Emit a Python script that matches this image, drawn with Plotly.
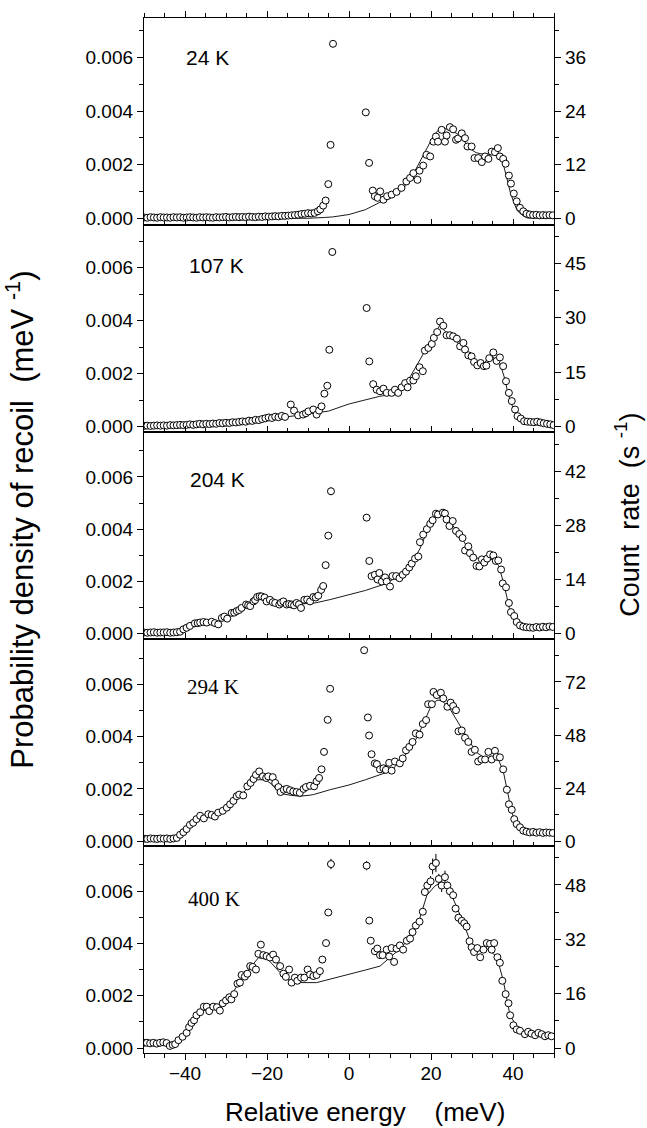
import plotly.graph_objects as go

# ---------------------------------------------------------------
# Recoil spectra at five temperatures: measured points + model curve
# energy in meV, probability density in meV^-1
# ---------------------------------------------------------------
temps = ["24 K", "107 K", "204 K", "294 K", "400 K"]

E24 = [-50, -49.2, -48.4, -47.6, -46.8, -46, -45.2, -44.4, -43.6, -42.8,
       -42, -41.2, -40.4, -39.6, -38.8, -38, -37.2, -36.4, -35.6, -34.8,
       -34, -33.2, -32.4, -31.6, -30.8, -30, -29.2, -28.4, -27.6, -26.8,
       -26, -25.2, -24.4, -23.6, -22.8, -22, -21.2, -20.4, -19.6, -18.8,
       -18, -17.2, -16.4, -15.6, -14.8, -14, -13.2, -12.4, -11.6, -10.8,
       -10, -9.2, -8.4, -7.6, -7.0, -6.3, -5.7, -5.05, -4.5, -3.9,
       4.1, 4.9, 5.8, 6.3, 7.0, 7.6, 8.4, 9.3, 10.4, 11.6,
       12.8, 14.0, 14.9, 15.7, 16.7, 17.2, 18.1, 18.9, 19.8, 20.6,
       21.2, 21.7, 22.6, 23.4, 23.8, 24.6, 25.4, 26.1, 26.6, 27.5,
       28.3, 28.9, 29.9, 30.6, 31.5, 32.4, 33.2, 34.0, 34.8, 35.6,
       36.3, 36.8, 37.6, 38.2, 39.0, 39.5, 40.2, 40.9, 41.7, 42.5,
       43.3, 44.1, 44.9, 45.7, 46.5, 47.3, 48.1, 48.9, 49.7]
P24 = [0.00004, 0.00003, 0.00005, 0.00004, 0.00003, 0.00005, 0.00004, 0.00004, 0.00003, 0.00005,
       0.00004, 0.00005, 0.00003, 0.00004, 0.00005, 0.00004, 0.00003, 0.00005, 0.00004, 0.00005,
       0.00004, 0.00003, 0.00005, 0.00004, 0.00005, 0.00006, 0.00004, 0.00005, 0.00006, 0.00005,
       0.00006, 0.00005, 0.00007, 0.00006, 0.00005, 0.00007, 0.00006, 0.00008, 0.00007, 0.00008,
       0.00009, 0.00008, 0.0001, 0.0001, 0.00011, 0.00012, 0.00013, 0.00014, 0.00017, 0.00018,
       0.0002, 0.00019, 0.00021, 0.00027, 0.00034, 0.00048, 0.00067, 0.00128, 0.00274, 0.0065,
       0.00395, 0.00207, 0.00104, 0.00083, 0.00077, 0.00101, 0.0007, 0.00083, 0.00089, 0.00099,
       0.00114, 0.00138, 0.00151, 0.00169, 0.00144, 0.00178, 0.00197, 0.00237, 0.00231, 0.00286,
       0.00305, 0.00286, 0.0033, 0.00286, 0.00309, 0.0034, 0.00332, 0.00293, 0.00298, 0.00317,
       0.00299, 0.00268, 0.00268, 0.00225, 0.00225, 0.0021, 0.00231, 0.00222, 0.00249, 0.00247,
       0.00262, 0.00231, 0.00222, 0.00204, 0.0016, 0.0013, 0.00093, 0.00064, 0.0004, 0.00027,
       0.00018, 0.00015, 0.00013, 0.00014, 0.00012, 0.00013, 0.00012, 0.00013, 0.00012]
F24_E = [-50, -12, -10, -6, -4, 0, 4, 7.5, 10, 12, 14, 15.5, 17, 18.5, 20, 21, 22.2, 23.5,
         25, 26.5, 28, 29.5, 31, 32.5, 34, 35.2, 36.5, 37.5, 38.5, 39.3, 40.1, 41, 41.7,
         42.5, 43.5, 50]
F24_P = [0, 0, 0.00001, 0.00004, 0.00006, 0.00015, 0.00033, 0.0006, 0.00075, 0.00095, 0.00125,
         0.0016, 0.00205, 0.0025, 0.0029, 0.00315, 0.00336, 0.00335, 0.00325, 0.00315, 0.0029,
         0.0026, 0.00245, 0.0024, 0.0024, 0.00245, 0.0024, 0.0021, 0.0015, 0.001, 0.00064,
         0.0003, 0.0002, 0.0001, 0.00002, 0]

E107 = [-50, -49.2, -48.4, -47.6, -46.8, -46, -45.2, -44.4, -43.6, -42.8,
        -42, -41.2, -40.4, -39.6, -38.8, -38, -37.2, -36.4, -35.6, -34.8,
        -34, -33.2, -32.4, -31.6, -30.8, -30, -29.2, -28.4, -27.6, -26.8,
        -26, -25.2, -24.4, -23.6, -22.8, -22, -21.2, -20.4, -19.6, -18.8,
        -18, -17.2, -16.4, -15.6, -14.2, -13.4, -12.4, -11.2, -10.5, -9.9,
        -8.7, -7.9, -7.3, -6.7, -6.0, -5.3, -4.8, -4.07,
        4.3, 4.95, 5.9, 6.75, 7.56, 8.4, 9.2, 10.4, 11.2, 12.0,
        12.85, 13.7, 14.3, 14.9, 15.7, 16.3, 17.2, 18.0, 18.5, 19.35,
        20.2, 20.7, 21.5, 22.2, 23.0, 23.8, 24.6, 25.4, 26.3, 27.1,
        27.9, 28.3, 29.1, 29.9, 30.5, 31.3, 32.1, 32.9, 33.5, 34.2,
        35.2, 36.0, 36.8, 37.6, 38.3, 39.0, 39.7, 40.5, 41.1, 41.9,
        42.7, 43.5, 44.3, 45.1, 45.9, 46.7, 47.5, 48.3, 49.1, 49.9]
P107 = [0.00002, 0.00003, 0.00002, 0.00003, 0.00004, 0.00003, 0.00004, 0.00003, 0.00005, 0.00004,
        0.00005, 0.00006, 0.00005, 0.00006, 0.00008, 0.00006, 0.00008, 0.0001, 0.00008, 0.0001,
        0.00009, 0.00011, 0.0001, 0.00013, 0.00012, 0.00014, 0.00013, 0.00016, 0.00015, 0.00017,
        0.00019, 0.00018, 0.00022, 0.00021, 0.00025, 0.00024, 0.00028, 0.00031, 0.00034, 0.00032,
        0.00037, 0.00035, 0.0004, 0.00036, 0.00083, 0.0006, 0.00042, 0.00045, 0.0005, 0.00057,
        0.00064, 0.00045, 0.0006, 0.00076, 0.00124, 0.00154, 0.0029, 0.0066,
        0.00448, 0.00246, 0.0016, 0.00139, 0.00133, 0.00143, 0.00127, 0.00127, 0.00139, 0.00127,
        0.00148, 0.00164, 0.00148, 0.00173, 0.00174, 0.0019, 0.00224, 0.00209, 0.00287, 0.00297,
        0.00312, 0.00335, 0.00357, 0.00397, 0.00381, 0.00345, 0.00345, 0.00341, 0.00332, 0.00303,
        0.00316, 0.00291, 0.00269, 0.00265, 0.00244, 0.00231, 0.0024, 0.00228, 0.0023, 0.00258,
        0.0028, 0.00248, 0.00261, 0.00228, 0.00171, 0.00127, 0.00096, 0.00064, 0.00039, 0.0003,
        0.0002, 0.00018, 0.00017, 0.00016, 0.00018, 0.00015, 0.00012, 0.0001, 0.00008, 0.00005]
F107_E = [-50, -40, -30, -25, -20, -15, -10, -5, 0, 5, 7.5, 10, 12.5, 15, 16.5, 18, 19.5, 21,
          22.2, 23.4, 25, 27, 29, 31, 33, 34.5, 36, 37.2, 38, 38.7, 39.5, 40.3, 41.2, 42.5, 50]
F107_P = [0.00002, 0.00005, 0.00012, 0.00017, 0.00026, 0.00036, 0.00046, 0.00058, 0.00085,
          0.00105, 0.00114, 0.0012, 0.0015, 0.0019, 0.0023, 0.0027, 0.0031, 0.0035, 0.00385,
          0.0036, 0.0034, 0.0031, 0.0027, 0.0024, 0.0024, 0.0027, 0.0025, 0.0022, 0.0018,
          0.0013, 0.0009, 0.0006, 0.0003, 0.0001, 0.00002]

E204 = [-50, -49.2, -48.4, -47.6, -46.8, -46, -45.2, -44.4, -43.6, -42.8,
        -42, -41.2, -40.4, -39.6, -38.8, -37.6, -36.9, -36.3, -35.5, -34.7,
        -33.5, -32.7, -31.9, -31.0, -30.4, -29.7, -28.6, -28.0, -27.4, -26.8,
        -26.2, -25.1, -24.6, -24.1, -23.3, -22.9, -22.4, -21.8, -21.3, -20.6,
        -20.1, -19.3, -18.6, -18.0, -17.0, -16.6, -16.0, -15.2, -14.6, -14.0,
        -13.4, -12.8, -12.2, -11.7, -10.9, -10.2, -9.5, -8.7, -8.1, -7.5,
        -6.8, -6.3, -5.7, -5.05, -4.4,
        4.3, 4.95, 5.5, 6.3, 6.95, 7.4, 8.0, 8.8, 9.2, 10.0,
        10.6, 11.5, 12.3, 13.1, 13.9, 14.7, 15.3, 16.1, 16.9, 17.3,
        18.1, 19.0, 19.8, 20.4, 21.2, 21.7, 22.9, 23.4, 23.8, 24.5,
        25.3, 26.1, 26.9, 27.7, 28.3, 29.1, 29.5, 30.3, 31.1, 31.8,
        32.4, 33.0, 33.7, 34.4, 35.2, 35.8, 36.4, 37.1, 37.5, 38.3,
        39.0, 39.5, 40.3, 40.9, 41.7, 42.5, 43.3, 44.1, 44.9, 45.7,
        46.5, 47.3, 48.1, 48.9, 49.7]
P204 = [0.00004, 0.00003, 0.00004, 0.00005, 0.00003, 0.00004, 0.00004, 0.00005, 0.00003, 0.00004,
        0.00005, 0.00007, 0.00016, 0.00022, 0.00029, 0.00039, 0.0004, 0.00042, 0.00044, 0.00042,
        0.00045, 0.0004, 0.00035, 0.0006, 0.00065, 0.00057, 0.00079, 0.0008, 0.00086, 0.0009,
        0.00098, 0.00111, 0.00108, 0.00105, 0.00123, 0.00128, 0.0014, 0.00143, 0.00142, 0.00138,
        0.00123, 0.00129, 0.0012, 0.00117, 0.00111, 0.00118, 0.00123, 0.00111, 0.00113, 0.00111,
        0.00108, 0.00117, 0.00112, 0.00098, 0.00129, 0.0013, 0.00123, 0.0014, 0.00138, 0.00145,
        0.00167, 0.00182, 0.00262, 0.00375, 0.00545,
        0.00444, 0.00278, 0.0022, 0.00225, 0.00207, 0.00232, 0.00199, 0.00215, 0.00199, 0.0018,
        0.0022, 0.0022, 0.00212, 0.00225, 0.00237, 0.00253, 0.00268, 0.00287, 0.00295, 0.0035,
        0.00379, 0.004, 0.0042, 0.00434, 0.00459, 0.00456, 0.00463, 0.0046, 0.00437, 0.00412,
        0.00431, 0.00393, 0.00381, 0.00366, 0.00318, 0.00334, 0.00308, 0.00291, 0.00259, 0.00257,
        0.00284, 0.00272, 0.00287, 0.00303, 0.00299, 0.00278, 0.0028, 0.00245, 0.00192, 0.00177,
        0.00117, 0.00082, 0.00067, 0.00044, 0.00031, 0.00026, 0.00024, 0.00023, 0.00022, 0.00025,
        0.00023, 0.00026, 0.00024, 0.00027, 0.00025]
F204_E = [-50, -42, -40, -38, -35, -32, -30, -27, -25, -23, -21.5, -20, -18, -15, -12, -8.3,
          -4.6, 0, 4, 8.8, 11, 13, 15, 17.3, 19, 21, 22.9, 24.5, 26.5, 28.5, 31, 33.5, 35.2,
          36.5, 37.6, 38.5, 39.2, 40.1, 40.9, 42, 50]
F204_P = [0.00003, 0.00005, 0.0001, 0.00025, 0.0004, 0.00045, 0.0006, 0.00085, 0.001, 0.0012,
          0.00135, 0.00132, 0.0012, 0.0011, 0.00112, 0.00117, 0.0013, 0.00148, 0.00165, 0.0019,
          0.0021, 0.00235, 0.0026, 0.00325, 0.0039, 0.00444, 0.0046, 0.0043, 0.0039, 0.0034,
          0.0029, 0.0028, 0.00285, 0.0026, 0.002, 0.0014, 0.0009, 0.0006, 0.0004, 0.00025, 0.0002]

E294 = [-50, -49.2, -48.4, -47.6, -46.8, -46, -45.2, -44.4, -43.6, -42.8,
        -42, -41.2, -40.4, -39.6, -38.8, -38.0, -37.2, -36.3, -35.4, -34.3,
        -33.5, -32.7, -31.9, -30.8, -29.8, -29.0, -28.2, -27.4, -26.8, -25.8,
        -24.8, -24.0, -23.3, -22.7, -21.9, -21.0, -20.2, -19.7, -18.6, -18.0,
        -17.2, -16.7, -15.9, -15.2, -14.4, -13.6, -12.8, -12.0, -11.1, -10.5,
        -9.5, -8.5, -7.9, -7.3, -6.7, -6.1, -5.2, -4.6,
        3.7, 4.6, 4.9, 5.5, 6.3, 6.8, 7.56, 8.4, 9.0, 9.8,
        10.4, 11.2, 12.4, 13.1, 13.9, 14.7, 15.5, 16.3, 17.2, 18.0,
        18.8, 19.3, 20.2, 20.6, 21.4, 22.4, 23.0, 24.0, 24.8, 25.4,
        26.1, 26.7, 27.5, 28.3, 29.1, 29.9, 30.7, 31.5, 32.3, 33.2,
        34.0, 34.8, 35.6, 36.0, 36.8, 37.6, 38.5, 39.0, 39.7, 40.3,
        40.9, 41.7, 42.5, 43.3, 44.1, 44.9, 45.7, 46.5, 47.3, 48.1,
        48.9, 49.7]
P294 = [0.00009, 0.00008, 0.0001, 0.00009, 0.00008, 0.0001, 0.00009, 0.0001, 0.00008, 0.0001,
        0.00012, 0.00024, 0.00034, 0.00046, 0.00062, 0.0007, 0.00084, 0.00097, 0.00087, 0.00103,
        0.001, 0.00094, 0.00109, 0.00116, 0.00128, 0.00141, 0.00154, 0.00172, 0.00178, 0.00175,
        0.0021, 0.00223, 0.00238, 0.00254, 0.00267, 0.00248, 0.00242, 0.00248, 0.00245, 0.00223,
        0.00207, 0.00188, 0.00197, 0.002, 0.00195, 0.0019, 0.00188, 0.00185, 0.002, 0.00207,
        0.00212, 0.0021, 0.00229, 0.00242, 0.00275, 0.00342, 0.00465, 0.00584,
        0.00732, 0.00474, 0.00405, 0.00333, 0.00298, 0.00295, 0.00275, 0.00279, 0.00273, 0.003,
        0.0027, 0.00305, 0.00298, 0.00317, 0.00348, 0.00361, 0.0038, 0.00413, 0.00408, 0.00449,
        0.00464, 0.00525, 0.00525, 0.00572, 0.0056, 0.00569, 0.00547, 0.00515, 0.00531, 0.00518,
        0.00502, 0.00421, 0.00424, 0.00396, 0.0038, 0.00342, 0.0035, 0.00305, 0.00313, 0.00313,
        0.00342, 0.00313, 0.00346, 0.00323, 0.00321, 0.00275, 0.00197, 0.00141, 0.0012, 0.00084,
        0.00065, 0.00053, 0.0004, 0.00036, 0.00033, 0.00035, 0.00032, 0.00034, 0.00031, 0.00033,
        0.00032, 0.00031]
F294_E = [-50, -42, -40, -38, -36, -34, -32, -30, -28, -26, -24, -22.5, -20.5, -19, -17.5,
          -16, -14, -12, -10, -8.7, -4.6, 0, 4, 7.56, 10.4, 12.5, 14.9, 17, 19.8, 21.4, 22.6,
          24.5, 26, 27.9, 29.5, 31.1, 33, 35, 36.5, 37.6, 38.5, 39.7, 40.9, 42.5, 44, 50]
F294_P = [0.00008, 0.0001, 0.00035, 0.0007, 0.00088, 0.00095, 0.00105, 0.0012, 0.0015, 0.0018,
          0.0022, 0.00235, 0.00235, 0.0022, 0.00195, 0.0018, 0.00175, 0.00172, 0.00175, 0.00178,
          0.00197, 0.00215, 0.00235, 0.00255, 0.0027, 0.0031, 0.0035, 0.0041, 0.0051, 0.0054,
          0.0054, 0.0051, 0.0047, 0.00424, 0.0038, 0.0034, 0.0032, 0.0032, 0.0031, 0.0027,
          0.002, 0.0011, 0.0006, 0.0004, 0.00032, 0.0003]

E400 = [-50, -49.3, -48.5, -47.7, -46.9, -46.1, -45.3, -44.5, -43.7, -43.0,
        -42.4, -41.6, -40.6, -39.6, -39.0, -38.4, -37.8, -37.2, -36.3, -35.4,
        -34.7, -34.1, -33.1, -32.2, -31.5, -30.8, -30.0, -29.2, -28.7, -28.0,
        -27.2, -26.6, -26.2, -25.4, -24.8, -24.1, -23.5, -22.7, -22.1, -21.5,
        -20.9, -20.1, -19.3, -18.5, -17.8, -16.8, -16.0, -15.4, -14.6, -14.0,
        -13.2, -12.6, -11.7, -10.9, -10.1, -9.5, -8.7, -7.9, -7.1, -6.5,
        -5.6, -5.05, -4.4,
        4.3, 4.95, 5.3, 6.3, 6.9, 7.56, 8.2, 9.2, 9.8, 10.4,
        11.0, 11.6, 12.4, 13.2, 14.1, 14.9, 15.5, 16.3, 17.2, 18.0,
        18.5, 19.1, 19.9, 20.4, 21.2, 21.9, 22.6, 23.4, 24.0, 24.6,
        25.4, 26.0, 26.7, 27.5, 28.1, 28.7, 29.4, 29.9, 30.5, 31.3,
        32.0, 32.8, 33.6, 34.4, 34.8, 35.4, 36.2, 36.8, 37.4, 38.2,
        38.9, 39.3, 40.1, 40.9, 41.7, 42.9, 43.7, 44.5, 45.4, 46.2,
        47.0, 47.8, 48.6, 49.4]
P400 = [0.0002, 0.0002, 0.00018, 0.0002, 0.00017, 0.0002, 0.00022, 0.00019, 0.00008, 0.00012,
        0.00015, 0.0003, 0.00043, 0.00058, 0.0008, 0.00096, 0.00106, 0.00125, 0.00137, 0.00158,
        0.00158, 0.00141, 0.00158, 0.00156, 0.00143, 0.00171, 0.00182, 0.00194, 0.00186, 0.00206,
        0.00246, 0.0025, 0.00279, 0.00273, 0.00284, 0.00313, 0.0031, 0.003, 0.0036, 0.00395,
        0.00355, 0.00351, 0.00346, 0.00357, 0.00338, 0.00313, 0.00284, 0.00272, 0.003, 0.0025,
        0.00269, 0.00257, 0.00269, 0.00269, 0.003, 0.00281, 0.00275, 0.00279, 0.00294, 0.00338,
        0.00401, 0.00518, 0.00703,
        0.00697, 0.00487, 0.0041, 0.0037, 0.0038, 0.00355, 0.00355, 0.00376, 0.0035, 0.00382,
        0.00329, 0.0038, 0.00392, 0.00376, 0.0041, 0.00418, 0.00443, 0.00468, 0.00483, 0.00521,
        0.00596, 0.00621, 0.00637, 0.00694, 0.00707, 0.00646, 0.00621, 0.00653, 0.00621, 0.00599,
        0.00584, 0.00533, 0.00498, 0.00486, 0.00477, 0.00464, 0.00408, 0.00385, 0.00367, 0.00382,
        0.00347, 0.00376, 0.00401, 0.00398, 0.00376, 0.00401, 0.00347, 0.00326, 0.00257, 0.00206,
        0.00171, 0.00125, 0.00087, 0.00071, 0.00066, 0.00053, 0.00062, 0.00055, 0.00049, 0.00058,
        0.00053, 0.00045, 0.00049, 0.00045]
F400_E = [-50, -44, -42, -40, -38, -36, -34, -32, -30, -28, -26, -24, -22.1, -19.7, -16.8,
          -14.4, -12.8, -7.9, -4.6, 0, 4, 7.56, 10.4, 12.5, 14.1, 16.9, 19, 21, 22.2, 24.6,
          26.5, 27.9, 29.5, 31.1, 33.6, 36, 37.6, 39.2, 40.9, 42.5, 44, 50]
F400_P = [0.0002, 0.0002, 0.00025, 0.0004, 0.0009, 0.0014, 0.0015, 0.0016, 0.0018, 0.0022,
          0.0027, 0.0031, 0.00345, 0.00338, 0.00288, 0.00257, 0.0025, 0.0025, 0.00263, 0.0028,
          0.00298, 0.00313, 0.0035, 0.0038, 0.00408, 0.00477, 0.00584, 0.0062, 0.0063, 0.006,
          0.0053, 0.0048, 0.0041, 0.0037, 0.0038, 0.0035, 0.0026, 0.0013, 0.0008, 0.0006,
          0.0005, 0.00048]

# statistical error bars shown on selected points: energy -> half-width
ERR107 = {-4.07: 0.00015}
ERR204 = {-4.4: 0.00015}
ERR400 = {-4.4: 0.0002, -5.05: 0.00012, 4.3: 0.00018, 4.95: 0.00012, 18.5: 0.00015,
          19.1: 0.00015, 19.9: 0.0002, 20.4: 0.0003, 21.2: 0.00035, 21.9: 0.0002,
          22.6: 0.00025, 23.4: 0.00025, 24.0: 0.00015, 11.0: 0.00012, 13.2: 0.0001,
          14.1: 0.0001, 14.9: 0.0001}

# count-rate (s^-1) per unit probability density for each spectrum
count_scale = [6000, 7300, 6750, 11800, 7700]
count_step = [12, 15, 14, 24, 16]
# density range shown in each panel
y_ranges = [(-0.00024, 0.00746), (-0.00021, 0.00762), (-0.00021, 0.00772),
            (-0.00019, 0.00775), (-0.00019, 0.00772)]

panels = [
    (E24, P24, F24_E, F24_P, {}),
    (E107, P107, F107_E, F107_P, ERR107),
    (E204, P204, F204_E, F204_P, ERR204),
    (E294, P294, F294_E, F294_P, {}),
    (E400, P400, F400_E, F400_P, ERR400),
]

# where each temperature tag sits (energy, density)
label_pos = [(-34.4, 0.0060), (-32.2, 0.0061), (-32.0, 0.0059), (-33.2, 0.0059), (-32.9, 0.0057)]
label_font = ["Liberation Sans, Arial", "Liberation Sans, Arial", "Liberation Sans, Arial",
              "Liberation Serif, Times New Roman", "Liberation Serif, Times New Roman"]

SANS = "Liberation Sans, Arial, Helvetica, sans-serif"
TICKFONT = dict(family=SANS, size=19, color="black")
MAJ = dict(ticklen=6, tickwidth=1.2, tickcolor="black")
MINOR = lambda d, where: dict(dtick=d, ticklen=3.5, tickwidth=1, tickcolor="black", ticks=where)

fig = go.Figure()
layout = {}
n = len(panels)
for i, (E, P, FE, FP, ERR) in enumerate(panels):
    k = i + 1
    xa, ya, yr = f"x{k}", f"y{k}", f"y{k + n}"
    # model curve
    fig.add_trace(go.Scatter(x=FE, y=FP, mode="lines", xaxis=xa, yaxis=ya,
                             line=dict(color="black", width=0.9), hoverinfo="skip",
                             showlegend=False))
    err = [ERR.get(e, 0) for e in E]
    fig.add_trace(go.Scatter(
        x=E, y=P, mode="markers", xaxis=xa, yaxis=ya, showlegend=False,
        marker=dict(symbol="circle", size=7, color="white",
                    line=dict(color="black", width=1)),
        error_y=dict(type="data", array=err, visible=bool(ERR), width=0,
                     thickness=1, color="black")))
    # same data on the count-rate scale (carries the right-hand axis)
    fig.add_trace(go.Scatter(x=E, y=[p * count_scale[i] for p in P], mode="markers",
                             xaxis=xa, yaxis=yr, marker=dict(opacity=0),
                             hoverinfo="skip", showlegend=False))

    lo, hi = y_ranges[i]
    d0, d1 = 1 - (i + 1) / n, 1 - i / n
    last = i == n - 1
    where = "outside" if last else "inside"
    xkey = "xaxis" if k == 1 else f"xaxis{k}"
    ykey = "yaxis" if k == 1 else f"yaxis{k}"
    layout[xkey] = dict(
        domain=[0, 1], anchor=ya, range=[-50, 50], showgrid=False, zeroline=False,
        showline=True, linecolor="black", linewidth=1.3, side="bottom", mirror=True,
        ticks=where, tick0=0, dtick=20, showticklabels=last, tickfont=TICKFONT,
        ticklabelstandoff=-3, minor=MINOR(5, where), **MAJ)
    layout[ykey] = dict(
        domain=[d0, d1], anchor=xa, range=[lo, hi], showgrid=False, zeroline=False,
        showline=True, linecolor="black", linewidth=1.3,
        ticks="outside", tick0=0, dtick=0.002, tickformat=".3f", tickfont=TICKFONT,
        minor=MINOR(0.001, "outside"), **MAJ)
    s = count_scale[i]
    layout[f"yaxis{k + n}"] = dict(
        overlaying=ya, anchor=xa, side="right", range=[lo * s, hi * s],
        showgrid=False, zeroline=False, showline=True, linecolor="black", linewidth=1.3,
        ticks="outside", tick0=0, dtick=count_step[i], tickfont=TICKFONT,
        minor=MINOR(count_step[i] / 2, "outside"), **MAJ)

# tick marks along the top edge of the uppermost panel
top_x = f"x{2 * n + 1}"
fig.add_trace(go.Scatter(x=E24, y=P24, mode="markers", xaxis=top_x, yaxis="y1",
                         marker=dict(opacity=0), hoverinfo="skip", showlegend=False))
layout[f"xaxis{2 * n + 1}"] = dict(
    overlaying="x", anchor="y", side="top", range=[-50, 50], showgrid=False,
    zeroline=False, showline=True, linecolor="black", linewidth=1.3, ticks="outside",
    tick0=0, dtick=20, showticklabels=False, minor=MINOR(5, "outside"), **MAJ)

annotations = []
for i, t in enumerate(temps):
    k = i + 1
    annotations.append(dict(text=t, x=label_pos[i][0], y=label_pos[i][1],
                            xref=f"x{k}", yref=f"y{k}", showarrow=False,
                            xanchor="center", yanchor="middle",
                            font=dict(family=label_font[i], size=21, color="black")))

annotations += [
    dict(text="Relative energy    (meV)", x=0.538, y=-0.057, xref="paper", yref="paper",
         xanchor="center", yanchor="middle", showarrow=False,
         font=dict(family=SANS, size=26, color="black")),
    dict(text="Probability density of recoil  (meV <sup>-1</sup>)", x=-0.303, y=0.515,
         xref="paper", yref="paper", xanchor="center", yanchor="middle",
         textangle=-90, showarrow=False, font=dict(family=SANS, size=31, color="black")),
    dict(text="Count  rate  (s <sup>-1</sup>)", x=1.178, y=0.52, xref="paper", yref="paper",
         xanchor="center", yanchor="middle", textangle=-90, showarrow=False,
         font=dict(family=SANS, size=27, color="black")),
]

fig.update_layout(
    width=647, height=1128, autosize=False,
    margin=dict(l=144, r=93, t=12, b=75),
    paper_bgcolor="white", plot_bgcolor="white",
    annotations=annotations, **layout)

fig.write_html("out.html")
